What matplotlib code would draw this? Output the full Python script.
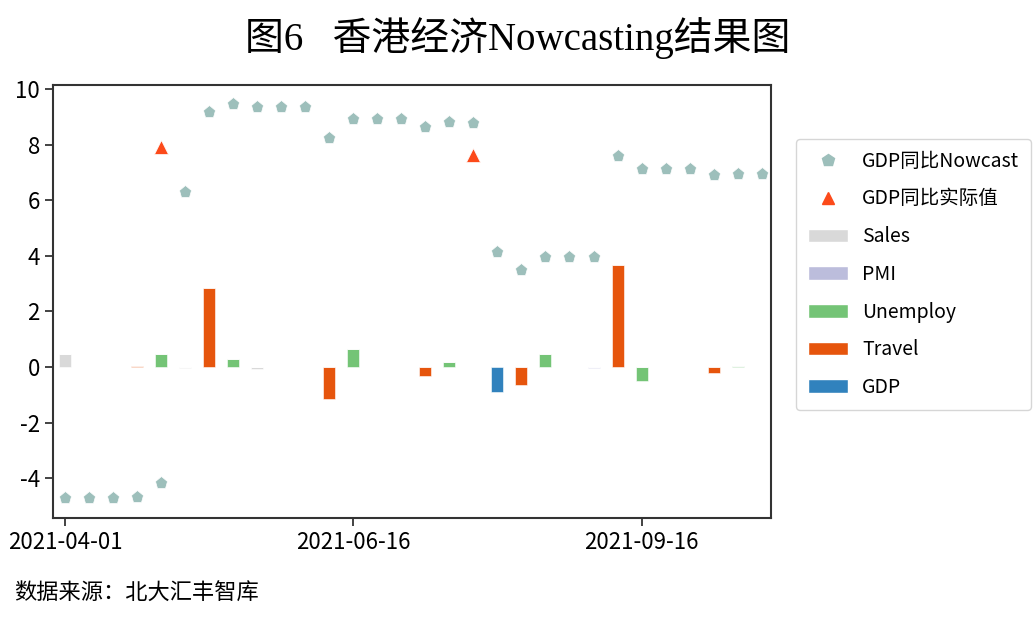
import matplotlib
matplotlib.use("Agg")
import matplotlib.pyplot as plt
from matplotlib.patches import Patch
from matplotlib.lines import Line2D
import numpy as np

# 30 weekly points, only three labelled on the axis
n = 30
tick_pos = [0, 12, 24]
tick_labels = ["2021-04-01", "2021-06-16", "2021-09-16"]

nowcast = [-4.70, -4.70, -4.70, -4.66, -4.18, 6.31, 9.18, 9.45, 9.36, 9.36,
           9.36, 8.23, 8.91, 8.91, 8.91, 8.62, 8.82, 8.76, 4.15, 3.49,
           3.95, 3.95, 3.95, 7.60, 7.11, 7.11, 7.11, 6.91, 6.94, 6.94]
actual = [np.nan] * n
actual[4] = 7.90
actual[17] = 7.63

sales = [0.0] * n
sales[0] = 0.48
sales[5] = -0.02
sales[8] = -0.08
pmi = [0.0] * n
pmi[10] = -0.01
pmi[13] = -0.01
pmi[14] = -0.01
pmi[22] = -0.03
pmi[26] = 0.01
unemploy = [0.0] * n
unemploy[4] = 0.47
unemploy[7] = 0.28
unemploy[12] = 0.65
unemploy[16] = 0.17
unemploy[20] = 0.46
unemploy[24] = -0.49
unemploy[28] = 0.05
travel = [0.0] * n
travel[3] = 0.04
travel[6] = 2.84
travel[11] = -1.14
travel[15] = -0.31
travel[19] = -0.66
travel[23] = 3.67
travel[27] = -0.22
gdp = [0.0] * n
gdp[18] = -0.90

bar_names = ["Sales", "PMI", "Unemploy", "Travel", "GDP"]
bar_data = [sales, pmi, unemploy, travel, gdp]
bar_colors = ["#d9d9d9", "#bcbddc", "#74c476", "#e6550d", "#3182bd"]

cjk = ["Noto Sans CJK SC", "DejaVu Sans"]
plt.rcParams['font.family'] = cjk
plt.rcParams['axes.unicode_minus'] = False

fig = plt.figure(figsize=(10.35, 6.21), dpi=100)
ax = fig.add_axes([0.0512, 0.166, 0.694, 0.697])

x = np.arange(n)
pos_base = np.zeros(n)
neg_base = np.zeros(n)
for name, vals, col in zip(bar_names, bar_data, bar_colors):
    v = np.array(vals)
    base = np.where(v >= 0, pos_base, neg_base)
    ax.bar(x, v, width=0.5, bottom=base, color=col, edgecolor="white", linewidth=0.4)
    pos_base += np.where(v >= 0, v, 0)
    neg_base += np.where(v < 0, v, 0)

ax.plot(x, nowcast, linestyle="none", marker="p", markersize=9.5,
        color="#9dbfbb", markeredgecolor="white", markeredgewidth=0.5)
ax.plot(x, actual, linestyle="none", marker="^", markersize=10,
        color="#fc4a1a", markeredgecolor="white", markeredgewidth=0.5)

ax.set_xlim(-0.5, 29.4)
ax.set_ylim(-5.43, 10.14)
ax.set_yticks(range(-4, 11, 2))
ax.set_xticks(tick_pos)
ax.set_xticklabels(tick_labels)
ax.tick_params(labelsize=16, length=6, width=1.2, color="#222222")
for sp in ax.spines.values():
    sp.set_linewidth(1.5)
    sp.set_color("#333333")

handles = [Line2D([], [], linestyle="none", marker="p", markersize=9, color="#9dbfbb"),
           Line2D([], [], linestyle="none", marker="^", markersize=9, color="#fc4a1a")]
labels = ["GDP同比Nowcast", "GDP同比实际值"]
for name, col in zip(bar_names, bar_colors):
    handles.append(Patch(facecolor=col, edgecolor="white"))
    labels.append(name)
fig.legend(handles, labels, loc="upper left", bbox_to_anchor=(0.769, 0.776),
           borderaxespad=0, prop={"family": cjk, "size": 14},
           labelspacing=0.86, handlelength=2.1, handletextpad=0.7,
           borderpad=0.6, fancybox=True, edgecolor="#cccccc")

fig.text(0.5, 0.939, "图6   香港经济Nowcasting结果图", ha="center", va="center",
         fontsize=28, family=["Liberation Serif", "Noto Sans CJK SC"])
fig.text(0.014, 0.045, "数据来源：北大汇丰智库", ha="left", va="center",
         fontsize=16, family=cjk)

fig.savefig("out.png", dpi=100)
